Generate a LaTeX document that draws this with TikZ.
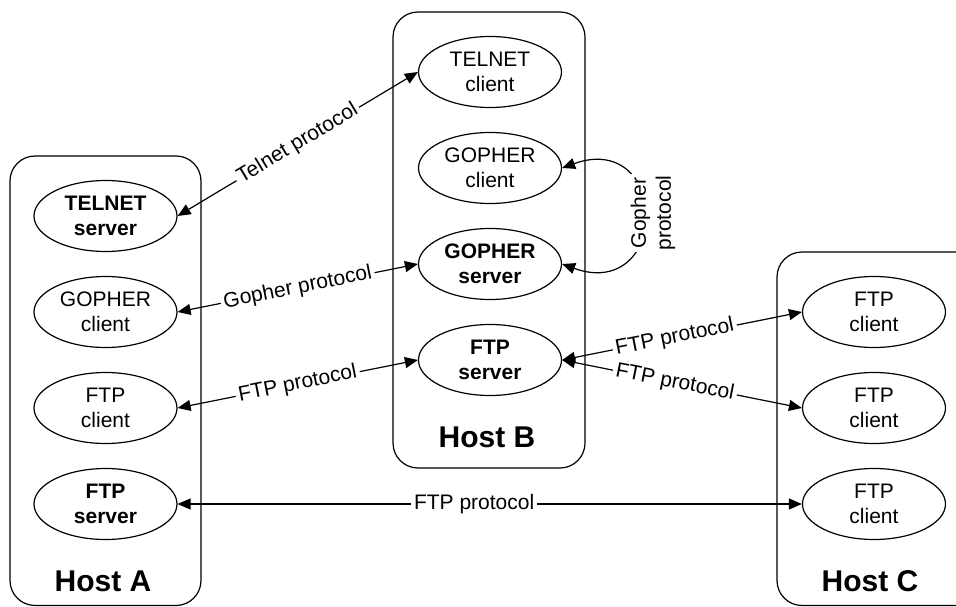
\documentclass[tikz,border=0pt]{standalone}
\usepackage{fontspec}
\setmainfont{Liberation Sans}
\usetikzlibrary{shapes.geometric,arrows.meta}

\tikzset{
  hostbox/.style={draw, line width=1.2pt, rounded corners=25pt},
  proc/.style={ellipse, draw, line width=1.2pt, minimum width=143pt,
    minimum height=71pt, inner sep=0pt, align=center,
    font=\fontsize{21}{25}\selectfont},
  srv/.style={proc, font=\fontsize{21}{25}\selectfont\bfseries},
  hostname/.style={font=\fontsize{30}{36}\selectfont\bfseries, inner sep=0pt},
  link/.style={line width=1.2pt,
    {Triangle[length=13pt,width=11pt]}-{Triangle[length=13pt,width=11pt]}},
  lbl/.style={fill=white, inner sep=3pt, sloped,
    font=\fontsize{21}{25}\selectfont},
}

\begin{document}
\begin{tikzpicture}[x=1pt, y=-1pt]
  \clip (0,0) rectangle (956,607);
  \fill[white] (0,0) rectangle (956,607);

  % host enclosures
  \draw[hostbox] (10,156) rectangle (201,605.5);
  \draw[hostbox] (393,12) rectangle (585,468);
  \draw[hostbox] (777,252) rectangle (985,605.5);

  % Host A
  \node[srv]  (atel) at (105.5,216) {TELNET\\server};
  \node[proc] (agc)  at (105.5,312) {GOPHER\\client};
  \node[proc] (afc)  at (105.5,408) {FTP\\client};
  \node[srv]  (afs)  at (105.5,504) {FTP\\server};
  \node[hostname] (ha) at (103,581) {Host A};

  % Host B
  \node[proc] (btel) at (490,72)  {TELNET\\client};
  \node[proc] (bgc)  at (490,168) {GOPHER\\client};
  \node[srv]  (bgs)  at (490,264) {GOPHER\\server};
  \node[srv]  (bfs)  at (490,360) {FTP\\server};
  \node[hostname] (hb) at (487,437) {Host B};

  % Host C
  \node[proc] (cf1) at (874,312) {FTP\\client};
  \node[proc] (cf2) at (874,408) {FTP\\client};
  \node[proc] (cf3) at (874,504) {FTP\\client};
  \node[hostname] (hc) at (870,581) {Host C};

  % protocol links
  \draw[link] (atel.east) -- node[lbl] {Telnet protocol} (btel.west);
  \draw[link] (agc.east) -- node[lbl] {Gopher protocol} (bgs.west);
  \draw[link] (afc.east) -- node[lbl] {FTP protocol} (bfs.west);
  \draw[link] (bfs.east) -- node[lbl, pos=0.47] {FTP protocol} (cf1.west);
  \draw[link] (bfs.east) -- node[lbl, pos=0.47] {FTP protocol} (cf2.west);
  \draw[link] (afs.east) -- node[lbl, pos=0.475] {FTP protocol} (cf3.west);

  % gopher loop inside Host B
  \coordinate (gm) at (646,216);
  \draw[link] (bgc.east) .. controls +(55,-20) and +(0,-40) .. (gm)
                         .. controls +(0,40) and +(55,20) .. (bgs.east);
  \node[fill=white, inner sep=2pt, rotate=90, align=center,
        font=\fontsize{21}{25}\selectfont] (glbl) at (653,213) {Gopher\\protocol};
\end{tikzpicture}
\end{document}
